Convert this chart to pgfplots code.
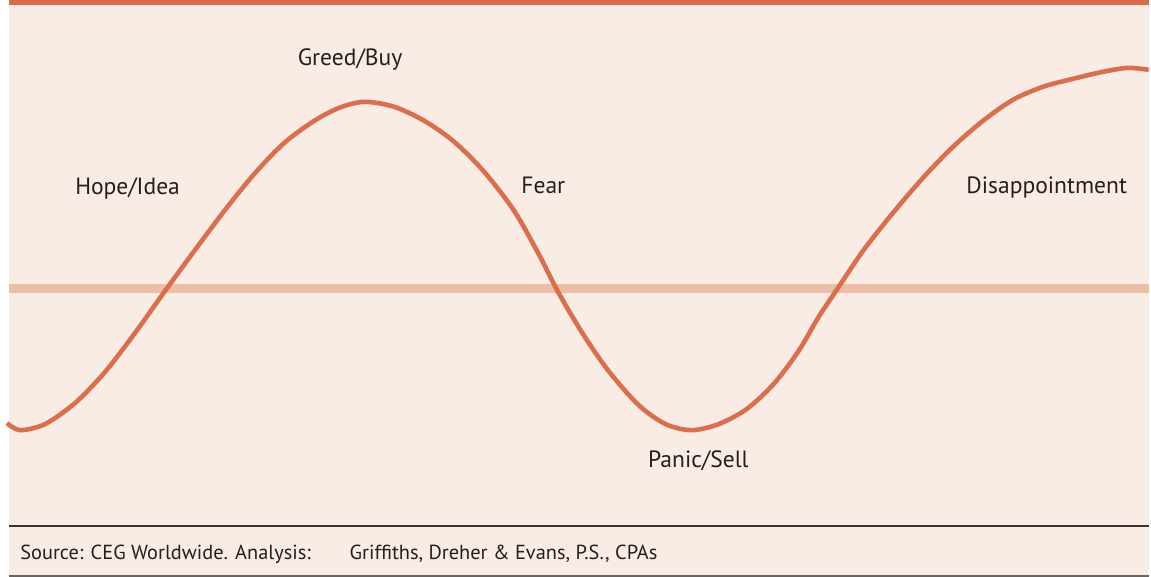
\documentclass[border=0pt]{standalone}
\usepackage{pgfplots}
\pgfplotsset{compat=1.18}
\usepackage{fontspec}
\setmainfont{PT Sans}
\definecolor{bgpeach}{HTML}{F9ECE4}
\definecolor{topbar}{HTML}{DB6B48}
\definecolor{band}{HTML}{EDBEA5}
\definecolor{curve}{HTML}{DC6E4B}
\definecolor{txt}{HTML}{231F20}
\begin{document}
\begin{tikzpicture}[x=0.5pt,y=0.5pt]
\begin{axis}[
  scale only axis, width=575.5pt, height=289pt,
  xmin=0, xmax=1151, ymin=0, ymax=578, y dir=reverse,
  hide axis, clip=false,
]
% background
\fill[white] (axis cs:0,0) rectangle (axis cs:1151,578);
\fill[bgpeach] (axis cs:9,0) rectangle (axis cs:1151,577);
\fill[topbar] (axis cs:9,0) rectangle (axis cs:1151,5.5);
\fill[band] (axis cs:9,284.5) rectangle (axis cs:1151,293.5);
\draw[txt!90, line width=1pt] (axis cs:9,527) -- (axis cs:1151,527);
\draw[black!60, line width=0.6pt] (axis cs:9,577.2) -- (axis cs:1151,577.2);
\addplot[curve, line width=2.3pt, smooth, tension=0.5, line cap=butt] coordinates {
(7,424) (20,431) (45,425) (75,404) (105,373) (135,334) (165,292) (195,251)
(225,211) (255,174) (285,143) (315,121) (340,108) (365,102) (395,107)
(425,121) (455,142) (485,172) (515,211) (540,255) (560,294) (585,336)
(610,372) (640,406) (667,425) (693,431) (720,425) (748,410) (775,385)
(800,352) (820,318) (840,288) (865,251) (895,213) (925,178) (955,147)
(985,121) (1015,100) (1045,87) (1075,79) (1105,72) (1130,68) (1151,70)
};
\begin{scope}[every node/.style={inner sep=0pt, anchor=base west, text=txt, font=\fontsize{11.8}{14}\selectfont}]
\node at (axis cs:75,195) {Hope/Idea};
\node at (axis cs:298,66) {Greed/Buy};
\node at (axis cs:522,194) {Fear};
\node at (axis cs:649,468) {Panic/Sell};
\node at (axis cs:968,194) {Disappointment};
\end{scope}
\begin{scope}[every node/.style={inner sep=0pt, anchor=base west, text=txt, font=\fontsize{10.2}{12}\selectfont}]
\node at (axis cs:20,561) {Source: CEG Worldwide. Analysis:};
\node at (axis cs:350,561) {Griffiths, Dreher \& Evans, P.S., CPAs};
\end{scope}
\end{axis}
\end{tikzpicture}
\end{document}
